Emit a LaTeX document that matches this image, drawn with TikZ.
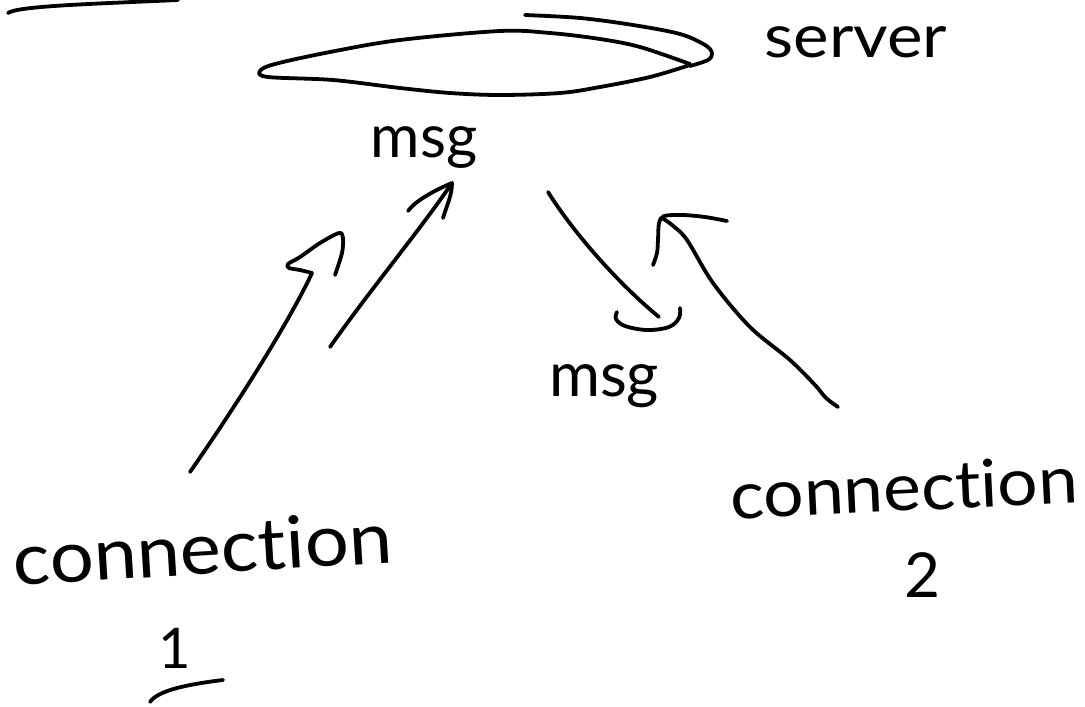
\documentclass[tikz,border=0pt]{standalone}
\usepackage{fontspec}
\newfontfamily\handfont[Ligatures=NoCommon]{Lato}
\newcommand\fsz[1]{\fontsize{#1}{#1}\selectfont}
\tikzset{
  pen/.style={line width=3.8pt, line cap=round, line join=round, black},
  label/.style={inner sep=0pt, outer sep=0pt, text=black},
}
\begin{document}
\begin{tikzpicture}[x=1pt,y=-1pt]
\useasboundingbox (0,0) rectangle (1085,707);

% labels
\node[label, font=\handfont\fsz{60}] (server) at (856,42) {\scalebox{1.12}[1]{server}};
\node[label, font=\handfont\fsz{60}] (msgA) at (424,148) {msg};
\node[label, font=\handfont\fsz{62}] (msgB) at (604,386) {msg};
\node[label, font=\handfont\fsz{72}, anchor=base, rotate=3.5] (conA) at (204,574) {\scalebox{1.08}[1]{connection}};
\node[label, font=\handfont\fsz{56}] (oneA) at (175,648) {1};
\node[label, font=\handfont\fsz{66}, anchor=base, rotate=2.7] (conB) at (905,511) {\scalebox{1.08}[1]{connection}};
\node[label, font=\handfont\fsz{62}] (twoB) at (922,575) {2};

% stray stroke at top left
\draw[pen] (8,13) .. controls (18,6) and (90,4) .. (178,0);

% server blob
\draw[pen] plot[smooth, tension=0.55] coordinates {
  (690,64) (640,47) (600,39) (550,33) (500,31) (400,40) (330,52) (275,64)
  (260,71) (268,77) (333,80) (400,88) (450,93) (500,95) (560,93) (600,87)
  (650,77) (690,65)};
\draw[pen] plot[smooth, tension=0.55] coordinates {
  (525,15) (580,18) (633,25) (680,34) (705,45) (712,53) (708,60) (690,66)};

% connector end points
\coordinate (a1s) at (190,472);
\coordinate (a1t) at (312,273);
\coordinate (a2s) at (330,347);
\coordinate (a2t) at (452,183);
\coordinate (a3s) at (548,192);
\coordinate (a3t) at (659,317);
\coordinate (a4s) at (838,407);
\coordinate (a4t) at (662,218);

% arrow 1 : connection 1 -> msg
\draw[pen] (a1s) .. controls (240,400) and (290,320) .. (a1t);
\draw[pen] plot[smooth, tension=0.5] coordinates {
  (a1t) (300,270) (289,268) (288,264) (300,257) (320,243) (339,233)
  (343,238) (342,253) (335,275)};

% arrow 2 : connection 1 -> msg
\draw[pen] (a2s) .. controls (370,290) and (420,230) .. (a2t);
\draw[pen] (408,211) .. controls (415,201) and (435,190) .. (a2t)
  .. controls (452,195) and (447,205) .. (443,218);

% arrow 3 : msg -> msg
\draw[pen] (a3s) .. controls (575,235) and (620,285) .. (a3t);
\draw[pen] plot[smooth, tension=0.6] coordinates {
  (617,312) (616,319) (625,326) (647,330) (669,327) (679,318) (680,308)};

% arrow 4 : connection 2 -> msg
\draw[pen] plot[smooth, tension=0.55] coordinates {
  (a4s) (826,398) (815,385) (790,360) (750,327) (713,283) (687,240) (672,225) (a4t)};
\draw[pen] plot[smooth, tension=0.5] coordinates {
  (653,265) (657,253) (658,240) (659,223) (664,216) (683,215) (705,217) (727,221)};

% underline of 1
\draw[pen] (150,702) .. controls (158,690) and (190,684) .. (223,680);
\end{tikzpicture}
\end{document}
